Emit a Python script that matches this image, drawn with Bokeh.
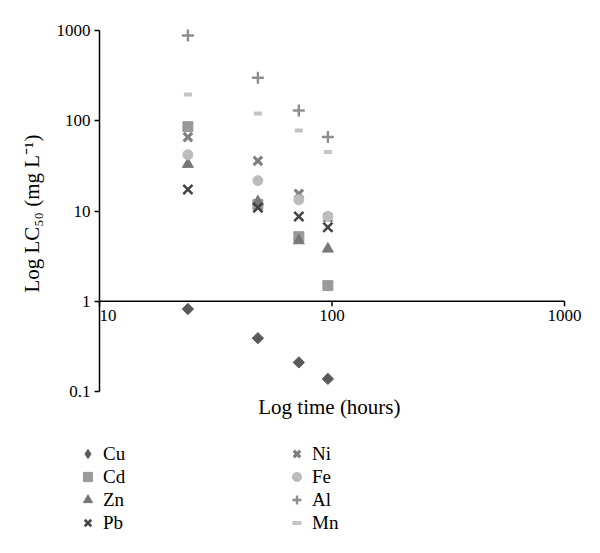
import math
from bokeh.plotting import figure
from bokeh.models import Legend, LegendItem, FixedTicker, CustomJSTickFormatter
from bokeh.embed import file_html
from bokeh.resources import INLINE

# ---- data ----
hours = [24, 48, 72, 96]
cu = [0.82, 0.39, 0.21, 0.138]
cd = [86, 11.8, 5.2, 1.49]
zn = [33, 12.7, 4.7, 3.8]
pb = [17.3, 10.9, 8.7, 6.6]
ni = [66, 36, 15.5, 8.5]
fe = [42, 21.7, 13.3, 8.7]
al = [880, 300, 130, 66]
mn = [195, 120, 78, 45]

x_ticks = [10, 100, 1000]
x_tick_labels = ["10", "100", "1000"]
y_ticks = [0.1, 1, 10, 100, 1000]
x_cross = 1  # the time axis crosses the LC50 axis at 1 mg/L

FONT = "Liberation Serif"

# ---- layout geometry (pixels) ----
W, H = 590, 545
X0_PX, XDEC_PX = 99, 232.5    # where x=10 sits, px per decade
Y0_PX, YDEC_PX = 391, 90.25   # where y=0.1 sits, px per decade
x_lo = 10 ** (1 - X0_PX / XDEC_PX)
x_hi = 10 ** (1 + (W - X0_PX) / XDEC_PX)
y_lo = 10 ** (-1 - (H - Y0_PX) / YDEC_PX)
y_hi = 10 ** (-1 + Y0_PX / YDEC_PX)

p = figure(width=W, height=H, x_axis_type="log", y_axis_type="log",
           x_range=(x_lo, x_hi), y_range=(y_lo, y_hi), x_axis_location=None,
           output_backend="svg", toolbar_location=None, min_border=0)
p.outline_line_color = None
p.xgrid.grid_line_color = None
p.ygrid.grid_line_color = None
p.border_fill_color = "white"

fmt = CustomJSTickFormatter(code="return tick.toString();")

# y axis, pinned at x = 10 and bounded to 0.1 .. 1000
ya = p.yaxis[0]
ya.fixed_location = x_ticks[0]
ya.bounds = (y_ticks[0], y_ticks[-1])
ya.ticker = FixedTicker(ticks=y_ticks)
ya.formatter = fmt
ya.minor_tick_line_color = None
ya.major_tick_out = 5
ya.major_tick_in = 0
ya.axis_line_width = 1.5
ya.axis_line_color = "black"
ya.major_tick_line_color = "black"
ya.major_tick_line_width = 1.5
ya.major_label_text_font = FONT
ya.major_label_text_font_size = "17px"
ya.major_label_text_color = "black"
ya.major_label_standoff = 4

# y axis title
y_mid = math.sqrt(y_ticks[0] * y_ticks[-1])
p.text(x=[x_ticks[0]], y=[y_mid], text=["Log LC₅₀  (mg L⁻¹)"], angle=math.pi / 2,
       text_align="center", text_baseline="middle", x_offset=-68,
       text_font=FONT, text_font_size="21px", text_color="black")

# x axis drawn across at y = 1
p.segment(x0=[x_ticks[0]], y0=[x_cross], x1=[x_ticks[-1]], y1=[x_cross],
          line_color="black", line_width=1.5)
p.ray(x=x_ticks, y=[x_cross] * len(x_ticks), length=5, length_units="screen",
      angle=-math.pi / 2, line_color="black", line_width=1.5)
p.text(x=x_ticks[:1], y=[x_cross], text=x_tick_labels[:1], text_align="left",
       text_baseline="top", y_offset=9, text_font=FONT, text_font_size="17px",
       text_color="black")
p.text(x=x_ticks[1:], y=[x_cross] * (len(x_ticks) - 1), text=x_tick_labels[1:],
       text_align="center", text_baseline="top", y_offset=9, text_font=FONT,
       text_font_size="17px", text_color="black")

# x axis title
x_mid = math.sqrt(x_ticks[0] * x_ticks[-1])
p.text(x=[x_mid], y=[y_ticks[0]], text=["Log time  (hours)"], text_align="center",
       text_baseline="middle", y_offset=15, text_font=FONT, text_font_size="21px",
       text_color="black")

series = [
    ("Cu", cu, "square", "#5a5a5a", 8, 1, math.pi / 4, "diamond"),
    ("Cd", cd, "square", "#9a9a9a", 10, 1, 0, None),
    ("Zn", zn, "triangle", "#787878", 11, 1, 0, None),
    ("Pb", pb, "x", "#444444", 13, 2.6, 0, None),
    ("Ni", ni, "x", "#808080", 12, 3.2, 0, None),
    ("Fe", fe, "circle", "#bcbcbc", 10, 1, 0, None),
    ("Al", al, "cross", "#8e8e8e", 12, 2.4, 0, None),
    ("Mn", mn, "dash", "#c4c4c4", 8, 4, 0, None),
]

items = []
for name, vals, marker, color, size, lw, ang, legend_marker in series:
    legend_r = None
    if legend_marker is not None:
        # legend swatch (legend glyphs are never rotated); hidden under the rotated marks
        legend_r = p.scatter(hours, vals, marker=legend_marker, size=size - 1,
                             fill_color=color, line_color=color, line_width=lw)
    r = p.scatter(hours, vals, marker=marker, size=size, fill_color=color,
                  line_color=color, line_width=lw, angle=ang)
    items.append(LegendItem(label=name, renderers=[legend_r or r]))

legend = Legend(items=items, location=(76, 11), orientation="vertical", nrows=4,
                glyph_width=23, glyph_height=23, label_standoff=4, label_width=182,
                label_height=20, spacing=0, padding=0, margin=0,
                border_line_color=None, background_fill_alpha=0,
                label_text_font=FONT, label_text_font_size="19px",
                label_text_color="black")
p.add_layout(legend, "center")

open("out.html", "w").write(file_html(p, INLINE))
